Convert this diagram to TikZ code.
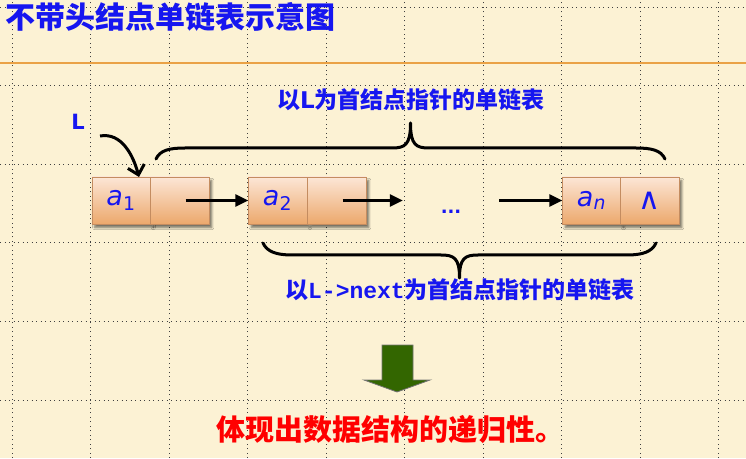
\documentclass[tikz,border=0pt]{standalone}
\usepackage{fontspec}
\setmainfont{DejaVu Sans}
\newfontfamily\cjk{Noto Sans CJK SC}
\newfontfamily\mono{Liberation Mono}
\usepackage{tikz}
\usetikzlibrary{arrows.meta,positioning,shadows.blur}
\definecolor{papier}{RGB}{252,242,212}
\definecolor{zelle}{RGB}{236,168,108}
\definecolor{zellehell}{RGB}{252,230,214}
\definecolor{rand}{RGB}{196,140,96}
\definecolor{tinte}{RGB}{22,22,240}
\definecolor{pfeilgruen}{RGB}{51,102,0}
\definecolor{linie}{RGB}{234,162,70}

\begin{document}
\begin{tikzpicture}[x=1pt,y=1pt,
		cell/.style={draw=rand,top color=zellehell,bottom color=zelle,minimum width=58.5pt,minimum height=47pt,inner sep=0pt,outer sep=0pt,text=tinte,font=\fontsize{27}{28}\selectfont\itshape,blur shadow={shadow xshift=3pt,shadow yshift=-3.5pt,shadow blur steps=6,shadow opacity=55}},
		raster/.style={black!75,line width=1pt,dash pattern=on 1pt off 3.5pt},
		next/.style={line width=3pt,-{Triangle[length=13pt,width=12pt]}},
		zeiger/.style={line width=3pt,-{Straight Barb[length=9pt,width=17pt]}},
		klammer/.style={line width=3pt,line cap=round,line join=round},
		beschrift/.style={text=tinte,inner sep=0pt,font=\fontsize{23}{26}\cjk\bfseries}]
		
		%hintergrund
		\fill[papier] (0,0) rectangle (746,458);
		\useasboundingbox (0,0) rectangle (746,458);
		\foreach \x in {12,90.5,...,720}
		\draw[raster] (\x,0) -- (\x,458);
		\foreach \y in {58,136.5,...,452}
		\draw[raster] (0,\y) -- (746,\y);
		\draw[linie,line width=1.2pt] (0,395) -- (746,395);
		
		\node[anchor=west,inner sep=0pt,text=tinte,font=\fontsize{30}{32}\cjk\bfseries] (titel) at (5,441) {不带头结点单链表示意图};
		
		%knoten
		\foreach \name/\x/\text in {d1/121/{a\textsubscript{\upshape 1}}, p1/179.5/{}, d2/277.5/{a\textsubscript{\upshape 2}}, p2/336.5/{}, dn/591.5/{a\textsubscript{n}}, pn/649.5/{\fontsize{30}{30}\selectfont\upshape ∧}}
		\node[cell] (\name) at (\x,257.5) {\text};
		
		\node[text=tinte,inner sep=0pt,minimum width=96pt,font=\fontsize{18}{18}\selectfont\bfseries] (dots) at (451,246) {...};
		
		%pfeile
		\draw[next] ([xshift=6pt]p1.center) -- (d2.west);
		\draw[next] ([xshift=6pt]p2.center) -- (p2.center -| dots.west);
		\draw[next] (dots.east |- dn.west) -- (dn.west);
		
		\node[text=tinte,font=\fontsize{21}{21}\selectfont\bfseries] (L) at (78,336) {L};
		\coordinate (Lfuss) at (100,322);
		\draw[zeiger] (Lfuss) to[out=10,in=105] ([xshift=18pt]d1.north);
		
		%klammern
		\draw[klammer] (156,299) .. controls (160,308) and (170,310) .. (185,310) -- (392,310) .. controls (405,310) and (410.5,313) .. (410.5,335)
		.. controls (410.5,313) and (416,310) .. (429,310) -- (636,310) .. controls (651,310) and (661,308) .. (665,299);
		\draw[klammer] (263,215) .. controls (267,206) and (277,203) .. (292,203) -- (441,203) .. controls (454,203) and (459.5,200) .. (459.5,180)
		.. controls (459.5,200) and (465,203) .. (478,203) -- (627,203) .. controls (642,203) and (652,206) .. (656,215);
		
		\node[beschrift] (oben) at (411,358) {以{\normalfont\bfseries L}为首结点指针的单链表};
		\node[beschrift] (unten) at (460,168) {以{\mono\bfseries L->next}为首结点指针的单链表};
		
		%ergebnis
		\draw[fill=pfeilgruen,draw=black!55,line width=0.8pt] (382,113) -- (413,113) -- (413,78) -- (430,78) -- (397,66) -- (364,78) -- (382,78) -- cycle;
		\node[text=red,inner sep=0pt,font=\fontsize{29}{32}\cjk\bfseries] (fazit) at (390,28) {体现出数据结构的递归性。};
		
\end{tikzpicture}
\end{document}
